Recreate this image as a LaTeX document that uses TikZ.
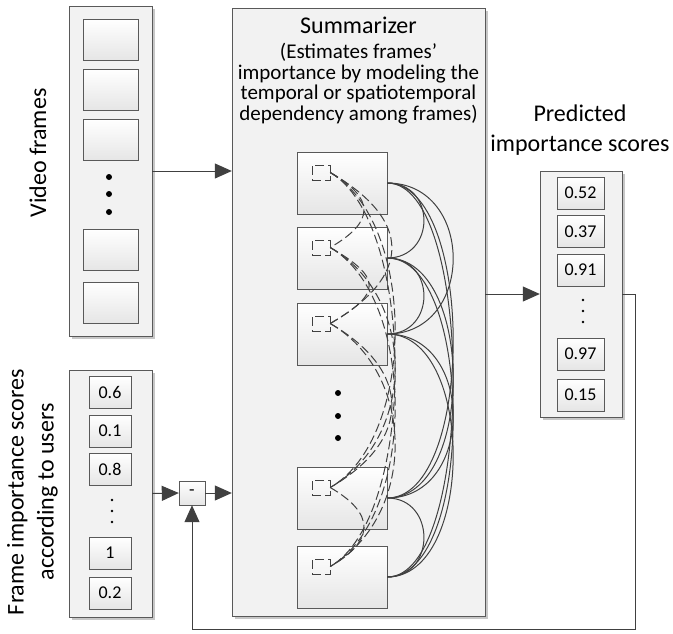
\documentclass[tikz,border=0pt]{standalone}
\usepackage{fontspec}
\setmainfont{Carlito}
\usetikzlibrary{shadows}
\usetikzlibrary{arrows.meta,shapes}
\usetikzlibrary{calc}
\definecolor{linegray}{HTML}{404040}
\definecolor{boxgray}{HTML}{595959}
\tikzstyle{panel}=[draw=boxgray,fill=black!5,inner sep=0pt,drop shadow={shadow xshift=3pt,shadow yshift=-3pt,fill=black!22,opacity=1}]
\tikzstyle{framebox}=[draw=boxgray,top color=white,bottom color=black!10,inner sep=0pt]
\tikzstyle{scorebox}=[framebox,minimum width=42pt,minimum height=32pt,font=\fontsize{18}{20}\selectfont]
\tikzstyle{iconbox}=[draw=linegray,dashed,dash pattern=on 9pt off 4pt,minimum width=18pt,minimum height=15pt,inner sep=0pt]
\tikzstyle{edge}=[draw=linegray,line width=1pt,-{Triangle[length=17pt,width=15pt]}]
\tikzstyle{solidarc}=[draw=linegray,line width=1pt]
\tikzstyle{dasharc}=[draw=linegray,line width=1pt,dash pattern=on 9pt off 4pt]
\tikzstyle{sidetext}=[font=\fontsize{24}{30}\selectfont,align=center,inner sep=0pt]
\tikzstyle{sumtext}=[font=\fontsize{21}{20.4}\selectfont,align=center,inner sep=0pt]

\begin{document}
\begin{tikzpicture}[x=1pt,y=1pt]
    \useasboundingbox[fill=white] (0,0) rectangle (673,-633);

    % panels
    \node[panel,minimum width=83pt,minimum height=330pt] (vid) at (110.5,-171) {};
    \node[panel,minimum width=83pt,minimum height=247pt] (usr) at (110.5,-493.5) {};
    \node[panel,minimum width=253pt,minimum height=608pt] (sum) at (358.5,-312) {};
    \node[panel,minimum width=82pt,minimum height=246pt] (pred) at (581,-294) {};

    \node[sidetext,rotate=90] (vidlabel) at (38,-153) {Video frames};
    \node[sidetext,rotate=90] (usrlabel) at (32.5,-492) {Frame importance scores\\according to users};
    \node[sidetext] (predlabel) at (580,-130) {Predicted\\importance scores};

    \node[sidetext,anchor=base] (sumtitle) at (358.5,-33.5) {Summarizer};
    \node[sumtext,anchor=base] (sumdesc) at (358.5,-120)
        {(Estimates frames’\\importance by modeling the\\temporal or spatiotemporal\\dependency among frames)};

    % input frames and scores
    \foreach \y/\name in {39.5/v1, 89.5/v2, 140/v3, 250/v4, 302.5/v5}
        \node[framebox,minimum width=55pt,minimum height=41pt] (\name) at (110.5,-\y) {};
    \foreach \y in {177,194,212}
        \fill (109,-\y) circle (3pt);

    \foreach \y/\val/\name in {392.5/0.6/u1, 431/0.1/u2, 469/0.8/u3, 553/1/u4, 593/0.2/u5}
        \node[scorebox] (\name) at (110,-\y) {\val};
    \foreach \y in {500,511,522}
        \fill (112,-\y) circle (1.3pt);

    \foreach \y/\val/\name in {193/0.52/p1, 231.5/0.37/p2, 270/0.91/p3, 354/0.97/p4, 395/0.15/p5}
        \node[scorebox,minimum width=47pt] (\name) at (580.5,-\y) {\val};
    \foreach \y in {300,311,322}
        \fill (583,-\y) circle (1.3pt);

    \node[framebox,minimum width=26pt,minimum height=24pt,font=\fontsize{18}{20}\selectfont] (minus) at (192,-493) {-};

    % frames inside the summarizer
    \foreach \y/\name in {183/f1, 258/f2, 334/f3, 498/f4, 577/f5}{
        \node[framebox,minimum width=90pt,minimum height=62pt] (\name) at (342,-\y) {};
        \node[iconbox] (i\name) at (321,-\y+10.5) {};
    }
    \foreach \y in {393,416,438}
        \fill (338,-\y) circle (3pt);

    % Connect frames with arcs
    \foreach \source/ \dest/\d in {f1/f2/49, f2/f3/49, f4/f5/49, f1/f3/88, f1/f4/88, f1/f5/88, f2/f4/88, f2/f5/88, f3/f4/88, f3/f5/88}
        \path[solidarc] (\source.east) to[out=0,in=0,distance=\d pt] (\dest.east);
    \foreach \source/ \dest/\d in {if1/if2/52, if2/if3/60, if4/if5/52, if1/if3/95, if1/if4/100, if1/if5/100, if2/if4/100, if2/if5/100, if3/if4/95, if3/if5/100}
        \path[dasharc] (\source.east) to[out=-30,in=30,distance=\d pt] (\dest.east);

    \path[edge] (vid.east) -- (vid.east -| sum.west);
    \path[edge] (usr.east) -- (minus.west);
    \path[edge] (minus.east) -- (minus.east -| sum.west);
    \path[edge] (pred.west -| sum.east) -- (pred.west);
    \coordinate (fb) at (635,-629);
    \path[edge] (pred.east) -| (fb) -| (minus.south);
\end{tikzpicture}
\end{document}
